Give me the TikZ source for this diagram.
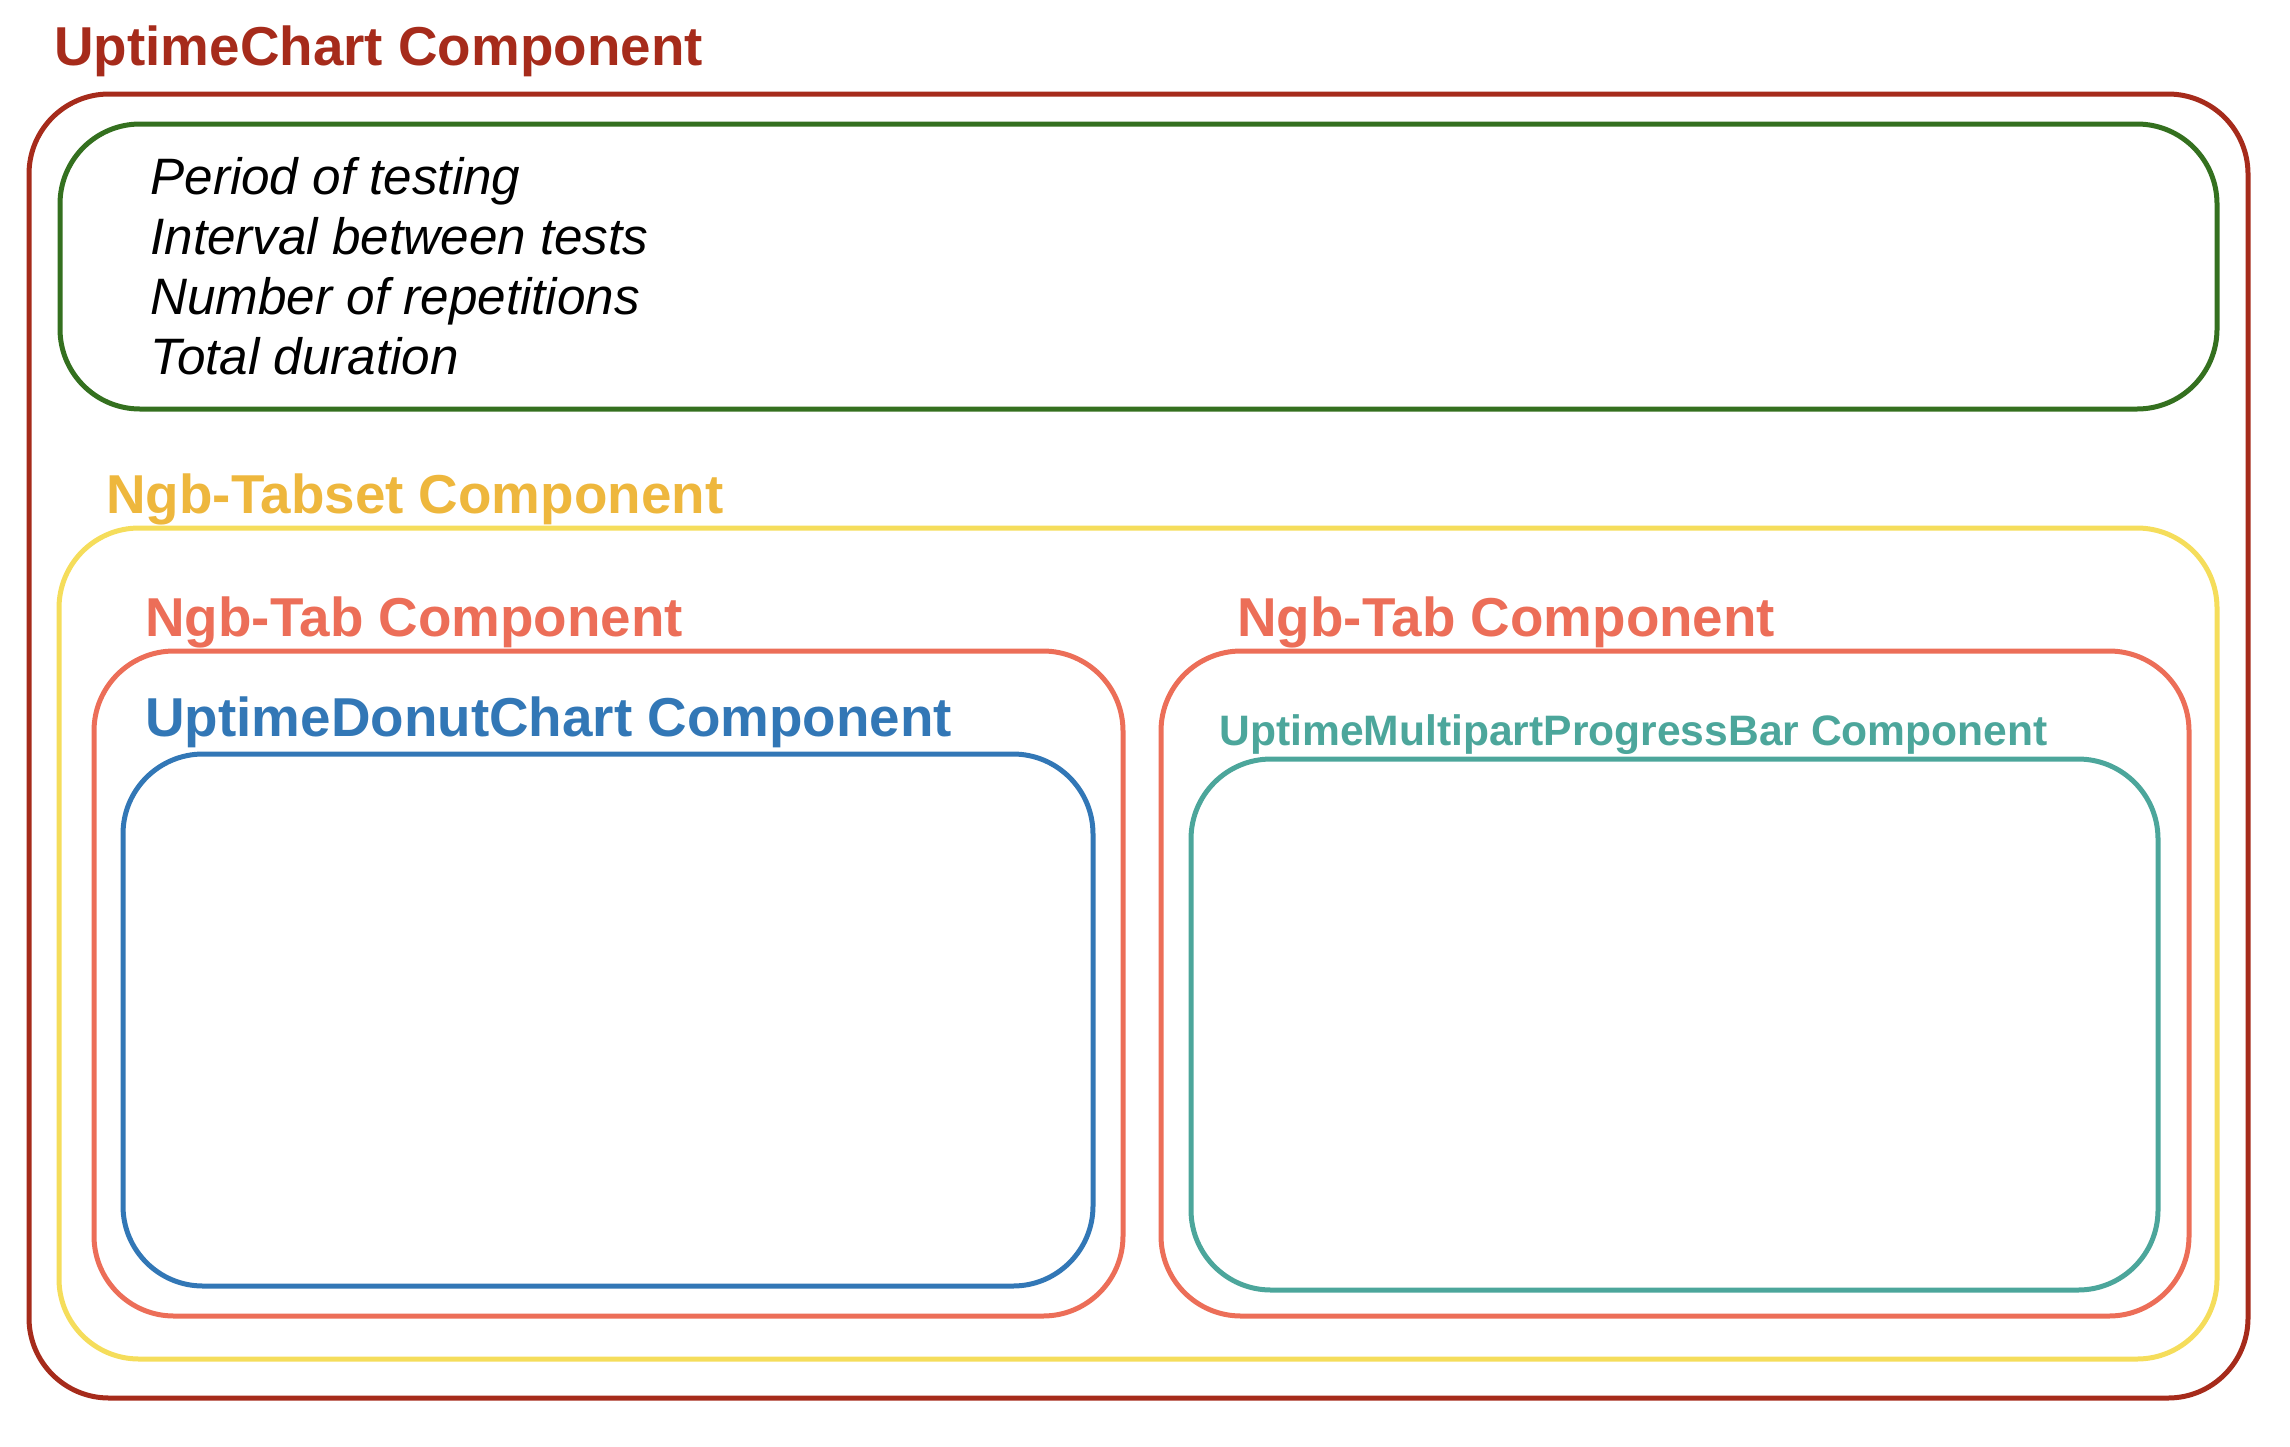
\documentclass[tikz,border=0pt]{standalone}
\usepackage{fontspec}
\setmainfont{Liberation Sans}
\usetikzlibrary{fit}
\definecolor{ucred}{HTML}{A62B1B}
\definecolor{ucgreen}{HTML}{34701F}
\definecolor{tabsetline}{HTML}{F5DD5B}
\definecolor{tabsettext}{HTML}{EEB73D}
\definecolor{tabsalmon}{HTML}{EC6E58}
\definecolor{donutblue}{HTML}{3277B6}
\definecolor{mpteal}{HTML}{4CA69B}
\tikzset{
  compbox/.style={draw=#1, line width=2.5pt, rounded corners=40pt, inner sep=0pt, outer sep=0pt},
  comptitle/.style={text=#1, font=\fontsize{27.4}{32}\selectfont\bfseries, anchor=base west, inner sep=0pt},
  smalltitle/.style={text=#1, font=\fontsize{21.3}{25}\selectfont\bfseries, anchor=base west, inner sep=0pt},
  infotext/.style={text=black, font=\fontsize{25.6}{30}\selectfont\itshape, anchor=base west, inner sep=0pt}
}
\begin{document}
\begin{tikzpicture}[x=0.5pt, y=-0.5pt]
\useasboundingbox (0,0) rectangle (2290,1446);
% outer component
\node[compbox=ucred, fit={(29,94)(2248,1398)}] (uc) {};
\node[comptitle=ucred] (uctitle) at (54,65) {UptimeChart Component};
% info box
\node[compbox=ucgreen, fit={(60,124)(2217,409)}] (info) {};
\node[infotext] (l1) at (150,194) {Period of testing};
\node[infotext] (l2) at (150,254) {Interval between tests};
\node[infotext] (l3) at (150,314) {Number of repetitions};
\node[infotext] (l4) at (150,374) {Total duration};
% tabset
\node[compbox=tabsetline, fit={(59,528)(2217,1359)}] (tabset) {};
\node[comptitle=tabsettext] (tabsettitle) at (106,513) {Ngb-Tabset Component};
% left tab
\node[compbox=tabsalmon, fit={(94,651)(1123,1316)}] (tabl) {};
\node[comptitle=tabsalmon] (tabltitle) at (145,636) {Ngb-Tab Component};
\node[compbox=donutblue, fit={(123,754)(1093,1286)}] (donut) {};
\node[comptitle=donutblue] (donuttitle) at (145,736) {UptimeDonutChart Component};
% right tab
\node[compbox=tabsalmon, fit={(1161,651)(2189,1316)}] (tabr) {};
\node[comptitle=tabsalmon] (tabrtitle) at (1237,636) {Ngb-Tab Component};
\node[compbox=mpteal, fit={(1191,759)(2158,1290)}] (mpbar) {};
\node[smalltitle=mpteal] (mpbartitle) at (1219,745) {UptimeMultipartProgressBar Component};
\end{tikzpicture}
\end{document}
